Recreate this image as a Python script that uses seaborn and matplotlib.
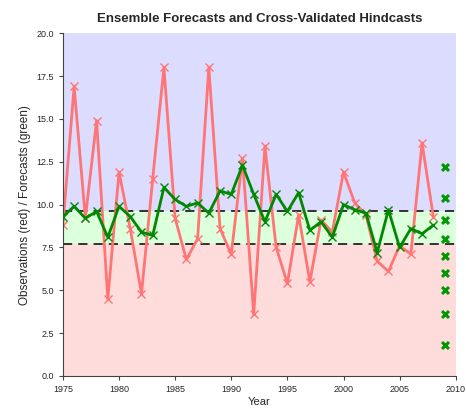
import matplotlib
matplotlib.use("Agg")
import matplotlib.pyplot as plt
import seaborn as sns
import pandas as pd

years = list(range(1975, 2009))
observations = [8.8, 16.9, 9.2, 14.9, 4.5, 11.9, 8.6, 4.8, 11.5, 18.0,
                9.2, 6.8, 8.0, 18.0, 8.6, 7.1, 12.7, 3.6, 13.4, 7.5,
                5.4, 9.4, 5.5, 9.1, 8.4, 11.9, 10.1, 9.4, 6.7, 6.1,
                7.6, 7.1, 13.6, 9.3]
hindcasts = [9.3, 9.9, 9.2, 9.6, 8.1, 9.9, 9.3, 8.4, 8.2, 11.0,
             10.3, 9.9, 10.1, 9.5, 10.8, 10.6, 12.3, 10.6, 9.0, 10.6,
             9.6, 10.7, 8.5, 9.0, 8.1, 10.0, 9.7, 9.5, 7.2, 9.7,
             7.5, 8.6, 8.3, 8.8]
forecast_year = 2009
ensemble = [12.2, 10.4, 9.1, 8.0, 7.0, 6.0, 5.0, 3.6, 1.8]
upper_tercile = 9.6
lower_tercile = 7.7

df = pd.DataFrame({"year": years, "obs": observations, "fcst": hindcasts})
ens = pd.DataFrame({"year": [forecast_year] * len(ensemble), "value": ensemble})

sns.set_style("ticks")
plt.rcParams['font.family'] = ['Liberation Sans', 'DejaVu Sans']

fig = plt.figure(figsize=(4.66, 4.13), dpi=100)
ax = fig.add_axes([0.135, 0.0896, 0.843, 0.830])

# tercile background bands
ax.axhspan(upper_tercile, 20, color="#dcdcff", zorder=0)
ax.axhspan(lower_tercile, upper_tercile, color="#dcffdc", zorder=0)
ax.axhspan(0, lower_tercile, color="#ffdcdc", zorder=0)
ax.axhline(upper_tercile, color="black", ls=(0, (6, 4)), lw=1.1, zorder=1)
ax.axhline(lower_tercile, color="black", ls=(0, (6, 4)), lw=1.1, zorder=1)

sns.lineplot(data=df, x="year", y="obs", ax=ax, color="#ff7575", lw=2,
             marker="x", markersize=5.5, mew=1.0, mec="#ff7575", zorder=2)
sns.lineplot(data=df, x="year", y="fcst", ax=ax, color="#008800", lw=2,
             marker="x", markersize=5.5, mew=1.0, mec="#008800", zorder=3)
sns.scatterplot(data=ens, x="year", y="value", ax=ax, marker="x", s=25,
                color="#009900", linewidth=2.2, zorder=3)

ax.set_xlim(1975, 2010)
ax.set_ylim(0, 20)
ax.set_xticks(range(1975, 2011, 5))
ax.set_yticks([0, 2.5, 5, 7.5, 10, 12.5, 15, 17.5, 20])
ax.set_yticklabels([f"{v:.1f}" for v in ax.get_yticks()])
ax.tick_params(labelsize=6.5, length=3, color="#444444")
ax.set_xlabel("Year", fontsize=8, labelpad=2)
ax.set_ylabel("Observations (red) / Forecasts (green)", fontsize=8.5, labelpad=4)
ax.set_title("Ensemble Forecasts and Cross-Validated Hindcasts",
             fontsize=9.5, fontweight="bold", pad=8)
ax.spines["top"].set_visible(False)
ax.spines["right"].set_visible(False)
ax.spines["left"].set_color("#444444")
ax.spines["bottom"].set_color("#444444")

fig.savefig("out.png", dpi=100)
